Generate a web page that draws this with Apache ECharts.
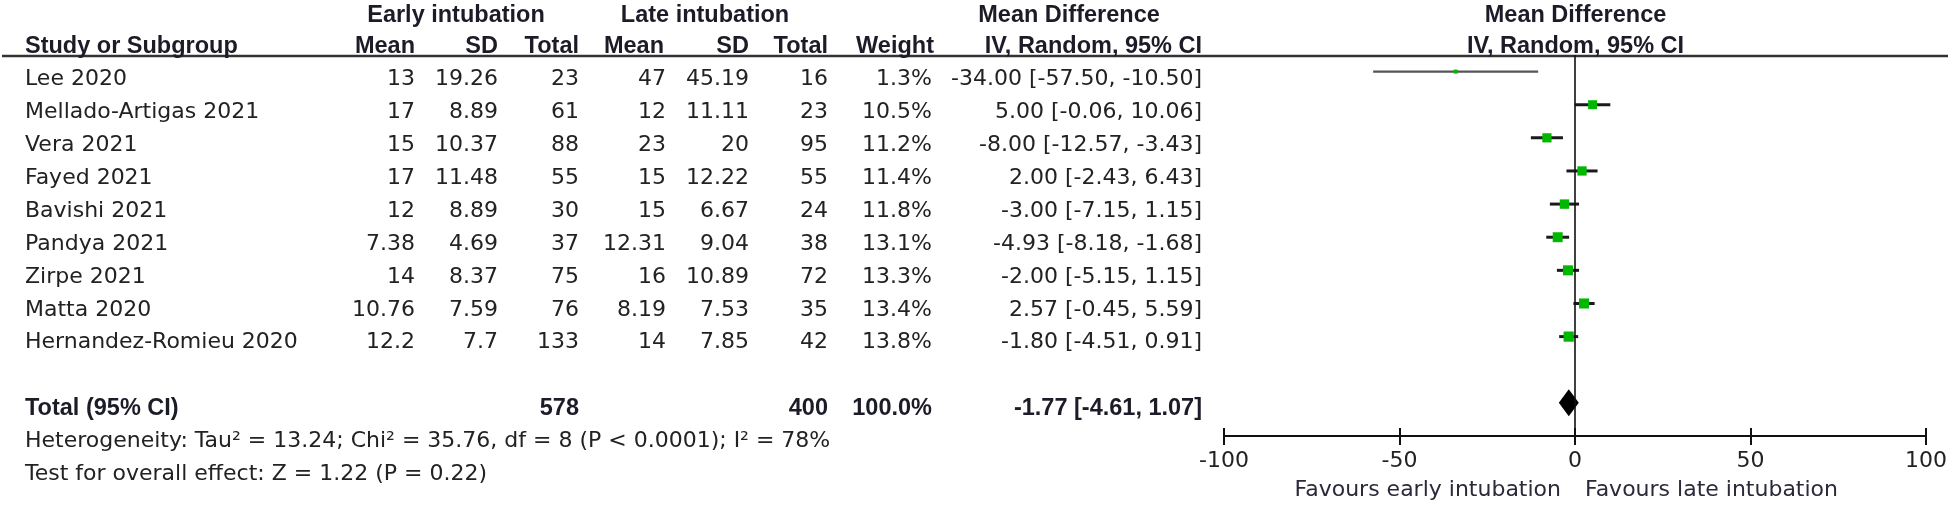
<!DOCTYPE html>
<html><head><meta charset="utf-8">
<script src="https://cdn.jsdelivr.net/npm/echarts@6/dist/echarts.min.js"></script>
<style>html,body{margin:0;padding:0;background:#fff}#c{width:1950px;height:506px}</style>
</head><body><div id="c"></div>
<script>
// ---------- data ----------
const studies = ['Lee 2020','Mellado-Artigas 2021','Vera 2021','Fayed 2021','Bavishi 2021','Pandya 2021','Zirpe 2021','Matta 2020','Hernandez-Romieu 2020'];
const earlyMean  = [13, 17, 15, 17, 12, 7.38, 14, 10.76, 12.2];
const earlySD    = [19.26, 8.89, 10.37, 11.48, 8.89, 4.69, 8.37, 7.59, 7.7];
const earlyTotal = [23, 61, 88, 55, 30, 37, 75, 76, 133];
const lateMean   = [47, 12, 23, 15, 15, 12.31, 16, 8.19, 14];
const lateSD     = [45.19, 11.11, 20, 12.22, 6.67, 9.04, 10.89, 7.53, 7.85];
const lateTotal  = [16, 23, 95, 55, 24, 38, 72, 35, 42];
const weights    = [1.3, 10.5, 11.2, 11.4, 11.8, 13.1, 13.3, 13.4, 13.8];
const meanDiff   = [-34.00, 5.00, -8.00, 2.00, -3.00, -4.93, -2.00, 2.57, -1.80];
const ciLow      = [-57.50, -0.06, -12.57, -2.43, -7.15, -8.18, -5.15, -0.45, -4.51];
const ciHigh     = [-10.50, 10.06, -3.43, 6.43, 1.15, -1.68, 1.15, 5.59, 0.91];
const totalLabel = 'Total (95% CI)';
const totalEarly = 578;
const totalLate  = 400;
const totalWeight = 100.0;
const pooled = [-1.77, -4.61, 1.07];
const groupHeaders = ['Early intubation', 'Late intubation', 'Mean Difference', 'Mean Difference'];
const colHeaders = ['Study or Subgroup','Mean','SD','Total','Mean','SD','Total','Weight','IV, Random, 95% CI','IV, Random, 95% CI'];
const heterogeneityText = 'Heterogeneity: Tau\u00b2 = 13.24; Chi\u00b2 = 35.76, df = 8 (P < 0.0001); I\u00b2 = 78%';
const overallText = 'Test for overall effect: Z = 1.22 (P = 0.22)';
const axisTicks = [-100, -50, 0, 50, 100];
const favoursLeft = 'Favours early intubation';
const favoursRight = 'Favours late intubation';

// ---------- layout ----------
const REG = '22px "DejaVu Sans"';
const BOLD = 'bold 23.5px "Liberation Sans"';
const COLX  = [25, 415, 498, 579, 666, 749, 828, 932, 1202];
const HEADX = [25, 415, 498, 579, 664, 749, 828, 934, 1202, 1575.5];
const HEADA = ['left','right','right','right','right','right','right','right','right','center'];
const GROUPX = [456, 705, 1069, 1575.5];

const fmt2 = v => v.toFixed(2);
const ciText = (m, lo, hi) => fmt2(m) + ' [' + fmt2(lo) + ', ' + fmt2(hi) + ']';

const cells = [];
function cell(x, row, text, align, bold) { cells.push({x, row, text, align, bold}); }
groupHeaders.forEach((t, i) => cell(GROUPX[i], -1.93, t, 'center', true));
colHeaders.forEach((t, i) => cell(HEADX[i], -1.0, t, HEADA[i], true));
studies.forEach((s, i) => {
  const vals = [s, String(earlyMean[i]), String(earlySD[i]), String(earlyTotal[i]),
    String(lateMean[i]), String(lateSD[i]), String(lateTotal[i]), weights[i].toFixed(1) + '%',
    ciText(meanDiff[i], ciLow[i], ciHigh[i])];
  vals.forEach((v, j) => cell(COLX[j], i, v, j === 0 ? 'left' : 'right', false));
});
cell(COLX[0], 10, totalLabel, 'left', true);
cell(COLX[3], 10, String(totalEarly), 'right', true);
cell(COLX[6], 10, String(totalLate), 'right', true);
cell(COLX[7], 10, totalWeight.toFixed(1) + '%', 'right', true);
cell(COLX[8], 10, ciText(pooled[0], pooled[1], pooled[2]), 'right', true);
cell(COLX[0], 11, heterogeneityText, 'left', false);
cell(COLX[0], 12, overallText, 'left', false);

const studyData = studies.map((s, i) => [i, meanDiff[i], ciLow[i], ciHigh[i], weights[i]]);
const TOTAL_ROW = 10;

const chart = echarts.init(document.getElementById('c'), null, {renderer: 'canvas'});
chart.setOption({
  backgroundColor: '#fff',
  animation: false,
  grid: [
    {left: 0, right: 0, top: 0, bottom: 0},
    {left: 1224, right: 23, top: 55, bottom: 70}
  ],
  xAxis: [
    {gridIndex: 0, type: 'value', min: 0, max: 1950, show: false},
    {gridIndex: 1, type: 'value', min: axisTicks[0], max: axisTicks[axisTicks.length - 1], interval: 50,
      position: 'bottom',
      axisLine: {show: true, onZero: false, lineStyle: {color: '#111', width: 2}},
      axisTick: {show: true, length: 9, lineStyle: {color: '#111', width: 2}},
      axisLabel: {show: true, margin: 14, color: '#222', fontFamily: 'DejaVu Sans', fontSize: 22},
      splitLine: {show: false}},
    {gridIndex: 1, type: 'value', min: axisTicks[0], max: axisTicks[axisTicks.length - 1], interval: 50,
      position: 'bottom',
      axisLine: {show: false, onZero: false},
      axisTick: {show: true, inside: true, length: 8, lineStyle: {color: '#111', width: 2}},
      axisLabel: {show: false}, splitLine: {show: false}}
  ],
  yAxis: [
    {gridIndex: 0, type: 'value', inverse: true, min: -2.4164, max: 12.9635, show: false},
    {gridIndex: 1, type: 'value', inverse: true, min: -0.5, max: 11, show: false}
  ],
  series: [
    {
      type: 'custom', xAxisIndex: 0, yAxisIndex: 0, silent: true,
      data: cells.map(c => [c.x, c.row]),
      renderItem(params, api) {
        const c = cells[params.dataIndex];
        const p = api.coord([api.value(0), api.value(1)]);
        return {type: 'text', x: p[0], y: p[1],
          style: {text: c.text, align: c.align, verticalAlign: 'middle',
            textAlign: c.align, textVerticalAlign: 'middle',
            font: c.bold ? BOLD : REG, fill: c.bold ? '#1c1c28' : '#222'}};
      }
    },
    {
      type: 'line', xAxisIndex: 1, yAxisIndex: 1, silent: true, symbol: 'none',
      data: [[0, -0.5], [0, 11]],
      lineStyle: {color: '#111', width: 1.6}
    },
    {
      type: 'custom', xAxisIndex: 1, yAxisIndex: 1, silent: true,
      encode: {x: [1, 2, 3], y: 0},
      data: studyData,
      renderItem(params, api) {
        const r = api.value(0), m = api.value(1), lo = api.value(2), hi = api.value(3), w = api.value(4);
        const pLo = api.coord([lo, r]), pHi = api.coord([hi, r]), pM = api.coord([m, r]);
        const s = Math.max(4, 2.75 * Math.sqrt(w));
        const thin = w < 5;
        return {type: 'group', children: [
          {type: 'line', shape: {x1: pLo[0], y1: pLo[1], x2: pHi[0], y2: pHi[1]},
            style: {stroke: thin ? '#555' : '#1a1a1a', lineWidth: thin ? 2.2 : 3}},
          {type: 'rect', shape: {x: pM[0] - s / 2, y: pM[1] - s / 2, width: s, height: s},
            style: {fill: '#00B800'}}
        ]};
      }
    },
    {
      type: 'custom', xAxisIndex: 1, yAxisIndex: 1, silent: true,
      encode: {x: [1, 2, 3], y: 0},
      data: [[TOTAL_ROW, pooled[0], pooled[1], pooled[2]]],
      renderItem(params, api) {
        const r = api.value(0);
        const pM = api.coord([api.value(1), r]), pLo = api.coord([api.value(2), r]), pHi = api.coord([api.value(3), r]);
        const h = 13.5;
        return {type: 'polygon', shape: {points: [[pLo[0], pM[1]], [pM[0], pM[1] - h], [pHi[0], pM[1]], [pM[0], pM[1] + h]]},
          style: {fill: '#000'}};
      }
    }
  ],
  graphic: [
    {type: 'line', silent: true, shape: {x1: 2, y1: 56, x2: 1948, y2: 56}, style: {stroke: '#333', lineWidth: 2.5}}
  ]
});
const zeroX = chart.convertToPixel({xAxisIndex: 1}, 0);
chart.setOption({
  graphic: [
    {type: 'line', silent: true, shape: {x1: 2, y1: 56, x2: 1948, y2: 56}, style: {stroke: '#333', lineWidth: 2.5}},
    {type: 'text', silent: true, x: zeroX - 14, y: 490, style: {text: favoursLeft, align: 'right', verticalAlign: 'middle', font: REG, fill: '#2a2a3a'}},
    {type: 'text', silent: true, x: zeroX + 10, y: 490, style: {text: favoursRight, align: 'left', verticalAlign: 'middle', font: REG, fill: '#2a2a3a'}}
  ]
});
</script></body></html>
